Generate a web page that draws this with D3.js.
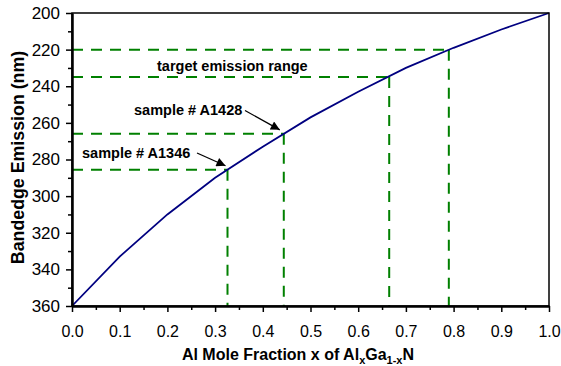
<!DOCTYPE html>
<html>
<head>
<meta charset="utf-8">
<script src="https://cdn.jsdelivr.net/npm/d3@7"></script>
<style>
  html, body { margin: 0; padding: 0; background: #fff; }
  svg { display: block; font-family: "Liberation Sans", Arial, Helvetica, sans-serif; }
</style>
</head>
<body>
<svg id="chart" width="561" height="366"></svg>
<script>
// Al mole fraction x and the bandedge emission wavelength of AlxGa1-xN
const fraction = [0.0, 0.1, 0.2, 0.3, 0.4, 0.5, 0.6, 0.7, 0.8, 0.9, 1.0];
const emission = [360, 333, 310, 290, 273, 257, 243, 230, 219, 209, 200];

// Reference markers: two samples and the target emission band
const markerFraction = [0.326, 0.444, 0.665, 0.79];
const markerEmission = [285.6, 266, 235, 220];

const xTicks = [0, 0.1, 0.2, 0.3, 0.4, 0.5, 0.6, 0.7, 0.8, 0.9, 1.0];
const xMinorTicks = [0.05, 0.15, 0.25, 0.35, 0.45, 0.55, 0.65, 0.75, 0.85, 0.95];
const yTicks = [200, 220, 240, 260, 280, 300, 320, 340, 360];
const yMinorTicks = [210, 230, 250, 270, 290, 310, 330, 350];

const svg = d3.select("#chart");
const plotLeft = 72, plotRight = 549, plotTop = 13, plotBottom = 306;

const x = d3.scaleLinear().domain([0, 1]).range([plotLeft, plotRight]);
const y = d3.scaleLinear().domain([200, 360]).range([plotTop, plotBottom]);

// Dashed guide lines from each marker to both axes
const guides = svg.append("g")
  .attr("stroke", "#008000")
  .attr("stroke-width", 2)
  .attr("stroke-dasharray", "11,8")
  .attr("fill", "none");
markerFraction.forEach((f, i) => {
  const e = markerEmission[i];
  guides.append("line")
    .attr("x1", x(0)).attr("x2", x(f))
    .attr("y1", y(e)).attr("y2", y(e));
  guides.append("line")
    .attr("x1", x(f)).attr("x2", x(f))
    .attr("y1", y(e)).attr("y2", y(360));
});

// Emission curve
const line = d3.line()
  .x((d, i) => x(fraction[i]))
  .y(d => y(d));
svg.append("path")
  .datum(emission)
  .attr("d", line)
  .attr("fill", "none")
  .attr("stroke", "#000080")
  .attr("stroke-width", 1.8);

// Plot frame
svg.append("rect")
  .attr("x", plotLeft).attr("y", plotTop)
  .attr("width", plotRight - plotLeft).attr("height", plotBottom - plotTop)
  .attr("fill", "none")
  .attr("stroke", "#000")
  .attr("stroke-width", 1.5);

// Axes with major and minor ticks
function styleAxis(size) {
  return g => {
    g.select(".domain").attr("stroke", "#000").attr("stroke-width", 2);
    g.selectAll(".tick line").attr("stroke", "#000").attr("stroke-width", 1.5);
    g.selectAll(".tick text")
      .attr("fill", "#000")
      .style("font-size", size + "px")
      .style("font-family", "'Liberation Sans', Arial, sans-serif");
  };
}

svg.append("g")
  .attr("transform", `translate(0,${plotBottom})`)
  .call(d3.axisBottom(x).tickValues(xTicks).tickSize(6).tickPadding(14)
    .tickFormat(d3.format(".1f")).tickSizeOuter(0))
  .call(styleAxis(16));
svg.append("g")
  .attr("transform", `translate(0,${plotBottom})`)
  .call(d3.axisBottom(x).tickValues(xMinorTicks).tickSize(4).tickFormat("").tickSizeOuter(0))
  .call(styleAxis(16));

svg.append("g")
  .attr("transform", `translate(${plotLeft},0)`)
  .call(d3.axisLeft(y).tickValues(yTicks).tickSize(6).tickPadding(6).tickSizeOuter(0))
  .call(styleAxis(17));
svg.append("g")
  .attr("transform", `translate(${plotLeft},0)`)
  .call(d3.axisLeft(y).tickValues(yMinorTicks).tickSize(4).tickFormat("").tickSizeOuter(0))
  .call(styleAxis(17));

// Axis titles
const xTitle = svg.append("text")
  .attr("x", 298).attr("y", 360)
  .attr("text-anchor", "middle")
  .attr("font-weight", "bold")
  .attr("font-size", 16);
xTitle.append("tspan").text("Al Mole Fraction x of Al");
xTitle.append("tspan").attr("dy", 4).attr("font-size", 11).text("x");
xTitle.append("tspan").attr("dy", -4).text("Ga");
xTitle.append("tspan").attr("dy", 4).attr("font-size", 11).text("1-x");
xTitle.append("tspan").attr("dy", -4).text("N");

svg.append("text")
  .attr("transform", "translate(24,157.5) rotate(-90)")
  .attr("text-anchor", "middle")
  .attr("font-weight", "bold")
  .attr("font-size", 17.8)
  .text("Bandedge Emission (nm)");

// Annotations
const notes = svg.append("g")
  .attr("font-weight", "bold")
  .attr("font-size", 14.5)
  .attr("fill", "#000");
notes.append("text").attr("x", 157).attr("y", 71).text("target emission range");
notes.append("text").attr("x", 134).attr("y", 115).text("sample # A1428");
notes.append("text").attr("x", 82).attr("y", 158).text("sample # A1346");

svg.append("defs").append("marker")
  .attr("id", "arrowhead")
  .attr("viewBox", "0 0 10 10")
  .attr("refX", 10).attr("refY", 5)
  .attr("markerWidth", 12).attr("markerHeight", 9)
  .attr("markerUnits", "userSpaceOnUse")
  .attr("orient", "auto")
  .append("path")
  .attr("d", "M0,0 L10,5 L0,10 Z")
  .attr("fill", "#000");

const arrows = [
  { from: [245, 110.5], to: [x(markerFraction[1]) - 4, y(markerEmission[1]) - 4] },
  { from: [197, 153], to: [x(markerFraction[0]) - 2, y(markerEmission[0]) - 4] }
];
svg.append("g").selectAll("line").data(arrows).join("line")
  .attr("x1", d => d.from[0]).attr("y1", d => d.from[1])
  .attr("x2", d => d.to[0]).attr("y2", d => d.to[1])
  .attr("stroke", "#000")
  .attr("stroke-width", 1.3)
  .attr("marker-end", "url(#arrowhead)");
</script>
</body>
</html>
